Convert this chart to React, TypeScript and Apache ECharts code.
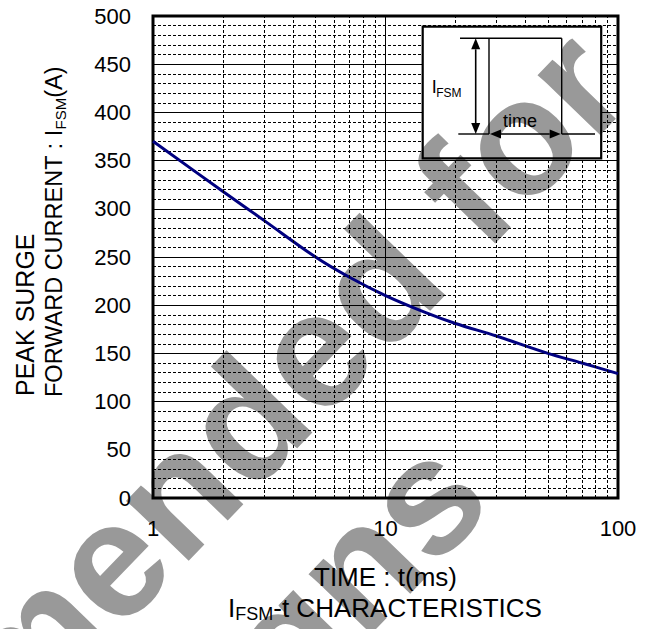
import React, { useEffect, useRef } from 'react';
import * as echarts from 'echarts';

// ---- data ----
const timeMs = [1, 2, 3, 5, 7, 10, 15, 20, 30, 50, 70, 100];
const ifsmA = [370, 318, 288, 250, 229, 210, 192, 181, 168, 150, 140, 129];
const xMinorGrid = [2, 3, 4, 5, 6, 7, 8, 9, 20, 30, 40, 50, 60, 70, 80, 90];
const xRange = [1, 100];
const yRange = [0, 500];
const yMajorStep = 50;
const yMinorSplit = 5;

const yTitle1 = 'PEAK SURGE';
const yTitle2 = '{m|FORWARD CURRENT : I}{s|FSM}{m|(A)}';
const xTitle = 'TIME : t(ms)';
const chartTitle = '{m|I}{s|FSM}{m|-t CHARACTERISTICS}';
const watermark1 = 'Not Recommended for';
const watermark2 = 'New Designs';

const FONT = "'Liberation Sans', Arial, Helvetica, sans-serif";
const WM_COLOR = '#999999';
const WM_ANGLE = (46 * Math.PI) / 180;

function wmTexts(z2: number) {
  const style = (text: string) => ({
    text,
    fill: WM_COLOR,
    font: `bold 164px ${FONT}`,
    align: 'center',
    verticalAlign: 'middle',
    textAlign: 'center',
    textVerticalAlign: 'middle',
  });
  return [
    { type: 'text', x: -15.2, y: 690.2, rotation: WM_ANGLE, z2, style: style(watermark1) },
    { type: 'text', x: 100.9, y: 832.4, rotation: WM_ANGLE, z2, style: style(watermark2) },
  ];
}

function insetElements() {
  const L = 422.7, T = 26.7, R = 601.2, B = 158.3;
  const xl = 489, xr = 561.7, yt = 38.3, yb = 134, xa = 475.7;
  const lw = 1.4;
  const line = (x1: number, y1: number, x2: number, y2: number, w = lw) => ({
    type: 'line',
    z2: 3,
    shape: { x1, y1, x2, y2 },
    style: { stroke: '#000', lineWidth: w },
  });
  const tri = (pts: number[][]) => ({
    type: 'polygon',
    z2: 3,
    shape: { points: pts },
    style: { fill: '#000', stroke: null },
  });
  const ah = 11, hw = 4.5;
  return [
    { type: 'rect', z2: 0, shape: { x: L, y: T, width: R - L, height: B - T }, style: { fill: '#fff', stroke: null } },
    {
      type: 'group',
      clipPath: { type: 'rect', shape: { x: L, y: T, width: R - L, height: B - T } },
      children: wmTexts(1),
    },
    { type: 'rect', z2: 3, shape: { x: L, y: T, width: R - L, height: B - T }, style: { fill: null, stroke: '#000', lineWidth: 2.2 } },
    // pulse
    line(460, yt, xr, yt),
    line(xl, yt, xl, yb),
    line(xr, yt, xr, yb),
    line(458.3, yb, xl, yb),
    line(xr, yb, 595, yb),
    // vertical arrow
    line(xa, yt + ah, xa, yb - ah, 1.6),
    tri([[xa, yt], [xa - hw, yt + ah], [xa + hw, yt + ah]]),
    tri([[xa, yb], [xa - hw, yb - ah], [xa + hw, yb - ah]]),
    // horizontal arrow
    line(xl + 1 + ah, yb, xr - 1 - ah, yb, 1.6),
    tri([[xl + 1, yb], [xl + 1 + ah, yb - hw], [xl + 1 + ah, yb + hw]]),
    tri([[xr - 1, yb], [xr - 1 - ah, yb - hw], [xr - 1 - ah, yb + hw]]),
    {
      type: 'text', z2: 3, x: 520, y: 121,
      style: { text: 'time', fill: '#000', font: `18px ${FONT}`, align: 'center', verticalAlign: 'middle', textAlign: 'center', textVerticalAlign: 'middle' },
    },
    {
      type: 'text', z2: 3, x: 431.7, y: 87,
      style: { text: 'I', fill: '#000', font: `18px ${FONT}`, align: 'left', verticalAlign: 'middle', textAlign: 'left', textVerticalAlign: 'middle' },
    },
    {
      type: 'text', z2: 3, x: 436.2, y: 93.2,
      style: { text: 'FSM', fill: '#000', font: `12px ${FONT}`, align: 'left', verticalAlign: 'middle', textAlign: 'left', textVerticalAlign: 'middle' },
    },
  ];
}

export default function App() {
  const ref = useRef<HTMLDivElement>(null);
  useEffect(() => {
    if (!ref.current) return;
    const chart = echarts.init(ref.current, undefined, { renderer: 'svg' });
    const labelFont = { color: '#000', fontFamily: FONT, fontSize: 22 };
    const rich = (mainSize: number, subSize: number, lh: number) => ({
      m: { fontSize: mainSize, fontFamily: FONT, color: '#000', lineHeight: lh },
      s: { fontSize: subSize, fontFamily: FONT, color: '#000', lineHeight: 10, verticalAlign: 'bottom' },
    });
    chart.setOption({
      animation: false,
      grid: {
        left: 153, top: 16, right: 31, bottom: 131,
        show: true, borderColor: '#000', borderWidth: 3, backgroundColor: 'transparent', z: 1,
      },
      xAxis: {
        type: 'log', logBase: 10, min: xRange[0], max: xRange[1],
        axisLine: { show: false }, axisTick: { show: false },
        axisLabel: { ...labelFont, margin: 19 },
        splitLine: { show: true, lineStyle: { color: '#000', width: 1 } },
        minorTick: { show: false }, minorSplitLine: { show: false },
      },
      yAxis: {
        type: 'value', min: yRange[0], max: yRange[1], interval: yMajorStep,
        axisLine: { show: false }, axisTick: { show: false },
        axisLabel: { ...labelFont, margin: 22 },
        splitLine: { show: true, lineStyle: { color: '#000', width: 1 } },
        minorTick: { show: false, splitNumber: yMinorSplit },
        minorSplitLine: { show: true, lineStyle: { color: '#000', width: 1, type: [3, 2] } },
      },
      graphic: [
        { type: 'text', x: 25, y: 396, rotation: Math.PI / 2, style: { text: yTitle1, fill: '#000', font: `25px ${FONT}`, align: 'left', verticalAlign: 'middle', textAlign: 'left', textVerticalAlign: 'middle' } },
        { type: 'text', x: 54, y: 397, rotation: Math.PI / 2, style: { text: yTitle2, rich: rich(23.5, 15, 28), align: 'left', verticalAlign: 'middle', textAlign: 'left', textVerticalAlign: 'middle' } },
        { type: 'text', x: 385.5, y: 577, style: { text: xTitle, fill: '#000', font: `26px ${FONT}`, align: 'center', verticalAlign: 'middle', textAlign: 'center', textVerticalAlign: 'middle' } },
        { type: 'text', x: 385, y: 608, style: { text: chartTitle, rich: rich(26, 18, 30), align: 'center', verticalAlign: 'middle', textAlign: 'center', textVerticalAlign: 'middle' } },
      ],
      series: [
        {
          type: 'custom',
          z: -1,
          clip: false,
          silent: true,
          data: [[xRange[0], yRange[0]]],
          renderItem: () => ({ type: 'group', children: wmTexts(0) }),
        },
        {
          type: 'line',
          z: 3,
          data: timeMs.map((t, i) => [t, ifsmA[i]]),
          smooth: 0.35,
          showSymbol: false,
          symbol: 'none',
          lineStyle: { color: '#000080', width: 3 },
          markLine: {
            silent: true,
            symbol: ['none', 'none'],
            label: { show: false },
            lineStyle: { color: '#000', width: 1, type: [3, 2] },
            emphasis: { disabled: true },
            data: xMinorGrid.map((v) => ({ xAxis: v })),
          },
        },
        {
          type: 'custom',
          z: 5,
          clip: false,
          silent: true,
          data: [[xRange[0], yRange[0]]],
          renderItem: () => ({ type: 'group', children: insetElements() }),
        },
      ],
    });
    return () => chart.dispose();
  }, []);
  return <div ref={ref} style={{ position: 'absolute', left: 0, top: 0, width: 649, height: 629 }} />;
}
